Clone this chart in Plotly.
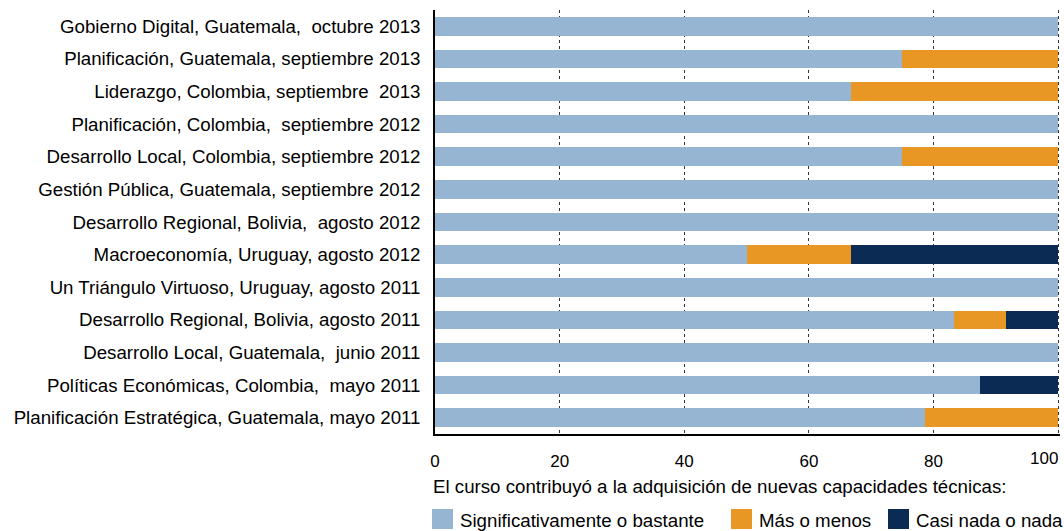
import plotly.graph_objects as go

NB = "\u00a0"

cursos = [
    f"Gobierno Digital, Guatemala, {NB}octubre 2013",
    "Planificación, Guatemala, septiembre 2013",
    f"Liderazgo, Colombia, septiembre {NB}2013",
    f"Planificación, Colombia, {NB}septiembre 2012",
    "Desarrollo Local, Colombia, septiembre 2012",
    "Gestión Pública, Guatemala, septiembre 2012",
    f"Desarrollo Regional, Bolivia, {NB}agosto 2012",
    "Macroeconomía, Uruguay, agosto 2012",
    "Un Triángulo Virtuoso, Uruguay, agosto 2011",
    "Desarrollo Regional, Bolivia, agosto 2011",
    f"Desarrollo Local, Guatemala, {NB}junio 2011",
    f"Políticas Económicas, Colombia, {NB}mayo 2011",
    "Planificación Estratégica, Guatemala, mayo 2011",
]

significativo = [100, 75, 66.7, 100, 75, 100, 100, 50, 100, 83.3, 100, 87.5, 78.6]
mas_o_menos = [0, 25, 33.3, 0, 25, 0, 0, 16.7, 0, 8.3, 0, 0, 21.4]
casi_nada = [0, 0, 0, 0, 0, 0, 0, 33.3, 0, 8.4, 0, 12.5, 0]

x_ticks = [0, 20, 40, 60, 80, 100]

series = [
    ("Significativamente o bastante", significativo, "#95b5d3"),
    ("Más o menos", mas_o_menos, "#e89725"),
    ("Casi nada o nada", casi_nada, "#0c2b54"),
]

W, H = 1064, 531
L, R, T, B = 435, 4, 10, 97
pw, ph = W - L - R, H - T - B
FS = 18.7


def px_x(x):  # pixel -> paper
    return (x - L) / pw


def px_y(y):
    return (H - B - y) / ph


fig = go.Figure()
for name, vals, color in series:
    fig.add_trace(go.Bar(
        y=cursos, x=vals, name=name, orientation="h", showlegend=False,
        marker=dict(color=color, line=dict(width=0)),
    ))

fig.update_layout(
    barmode="stack",
    bargap=0.43,
    width=W, height=H,
    margin=dict(l=L, r=R, t=T, b=B),
    plot_bgcolor="white", paper_bgcolor="white",
    font=dict(family="Liberation Sans, Arial, sans-serif", size=FS, color="#000"),
)
# last label is drawn separately so it stays inside the figure, like the original
tick_text = [str(v) for v in x_ticks]
tick_text[-1] = ""
fig.update_xaxes(
    range=[0, 100.3], tickvals=x_ticks, ticktext=tick_text, automargin=False,
    showgrid=True, gridcolor="#333", griddash="3px,3px", gridwidth=1,
    showline=True, linecolor="#000", linewidth=1.5,
    zeroline=False, ticks="", ticklabelstandoff=11, tickfont=dict(size=17),
)
fig.add_annotation(
    text=str(x_ticks[-1]), xref="paper", yref="paper", x=px_x(1060), y=px_y(459),
    xanchor="right", yanchor="middle", showarrow=False, font=dict(size=17),
)
fig.update_yaxes(
    autorange="reversed", automargin=False,
    showline=True, linecolor="#000", linewidth=1.5,
    showgrid=False, ticks="outside", ticklen=9, tickcolor="rgba(0,0,0,0)",
)
fig.add_annotation(
    text="El curso contribuyó a la adquisición de nuevas capacidades técnicas:",
    xref="paper", yref="paper", x=px_x(431), y=px_y(486), xanchor="left", yanchor="middle",
    showarrow=False, font=dict(size=FS),
)

# hand-built legend with large swatches
legend_x = [432, 731, 888]
for (name, _, color), lx in zip(series, legend_x):
    fig.add_shape(type="rect", xref="paper", yref="paper",
                  x0=px_x(lx), x1=px_x(lx + 21), y0=px_y(509), y1=px_y(529),
                  fillcolor=color, line=dict(width=0))
    fig.add_annotation(text=name, xref="paper", yref="paper",
                       x=px_x(lx + 26), y=px_y(520), xanchor="left", yanchor="middle",
                       showarrow=False, font=dict(size=FS))

fig.write_html("out.html", config={"displayModeBar": False},
               post_script="document.body.style.margin='0';")
